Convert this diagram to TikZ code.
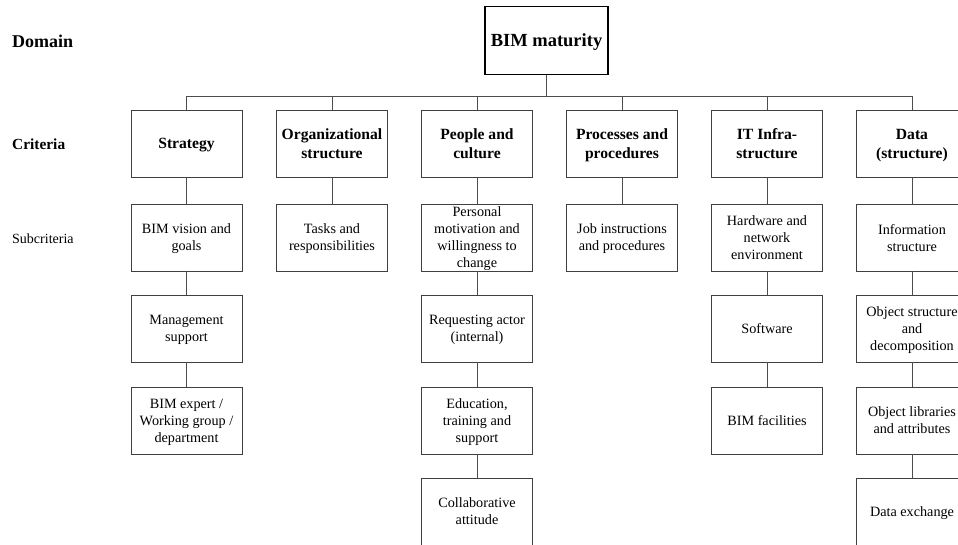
\documentclass[tikz,border=0pt]{standalone}
\usepackage{fontspec}
\setmainfont{Liberation Serif}
\begin{document}
\begin{tikzpicture}[x=1pt,y=-1pt,
  box/.style={draw=black!75,line width=0.9pt,minimum width=111pt,minimum height=67pt,
    inner sep=1pt,align=center,text depth=0pt,font=\fontsize{14.2}{17}\selectfont},
  critbox/.style={box,font=\fontsize{15.6}{19}\selectfont\bfseries},
  topbox/.style={draw=black,line width=1.8pt,minimum width=123pt,minimum height=68pt,
    align=center,text depth=0pt,font=\fontsize{18.5}{22}\selectfont\bfseries},
  link/.style={draw=black!70,line width=0.9pt},
  rowlabel/.style={anchor=west,inner sep=0pt}]
\useasboundingbox (0,0) rectangle (958,544);
\clip (0,0) rectangle (958,544);

% row labels
\node[rowlabel,font=\fontsize{18}{22}\selectfont\bfseries] (ldomain) at (12,41) {Domain};
\node[rowlabel,font=\fontsize{15.4}{18}\selectfont\bfseries] (lcrit) at (12,144) {Criteria};
\node[rowlabel,font=\fontsize{14}{17}\selectfont] (lsub) at (12,238.5) {Subcriteria};

% domain
\node[topbox] (bim) at (546.5,40.5) {BIM maturity};

% criteria
\node[critbox] (c1) at (186.5,143.5) {Strategy};
\node[critbox] (c2) at (332,143.5) {Organizational\\structure};
\node[critbox] (c3) at (477,143.5) {People and\\culture};
\node[critbox] (c4) at (622,143.5) {Processes and\\procedures};
\node[critbox] (c5) at (767,143.5) {IT Infra-\\structure};
\node[critbox] (c6) at (912,143.5) {Data\\(structure)};

% subcriteria
\node[box] (s11) at (186.5,237.5) {BIM vision and\\goals};
\node[box] (s12) at (186.5,328.5) {Management\\support};
\node[box] (s13) at (186.5,420.5) {BIM expert /\\Working group /\\department};

\node[box] (s21) at (332,237.5) {Tasks and\\responsibilities};

\node[box] (s31) at (477,237.5) {Personal\\motivation and\\willingness to\\change};
\node[box] (s32) at (477,328.5) {Requesting actor\\(internal)};
\node[box] (s33) at (477,420.5) {Education,\\training and\\support};
\node[box] (s34) at (477,511.5) {Collaborative\\attitude};

\node[box] (s41) at (622,237.5) {Job instructions\\and procedures};

\node[box] (s51) at (767,237.5) {Hardware and\\network\\environment};
\node[box] (s52) at (767,328.5) {Software};
\node[box] (s53) at (767,420.5) {BIM facilities};

\node[box] (s61) at (912,237.5) {Information\\structure};
\node[box] (s62) at (912,328.5) {Object structure\\and\\decomposition};
\node[box] (s63) at (912,420.5) {Object libraries\\and attributes};
\node[box] (s64) at (912,511.5) {Data exchange};

% bus from the domain to the criteria
\coordinate (bus) at (0,96);
\draw[link] (bim.south) -- (bim.south |- bus);
\draw[link] (c1.north) -- (c1.north |- bus) -| (c6.north);
\foreach \c in {c2,c3,c4,c5}
  \draw[link] (\c.north) -- (\c.north |- bus);

% criteria to subcriteria chains
\draw[link] (c1) -- (s11) (s11) -- (s12) (s12) -- (s13);
\draw[link] (c2) -- (s21);
\draw[link] (c3) -- (s31) (s31) -- (s32) (s32) -- (s33) (s33) -- (s34);
\draw[link] (c4) -- (s41);
\draw[link] (c5) -- (s51) (s51) -- (s52) (s52) -- (s53);
\draw[link] (c6) -- (s61) (s61) -- (s62) (s62) -- (s63) (s63) -- (s64);
\end{tikzpicture}
\end{document}
